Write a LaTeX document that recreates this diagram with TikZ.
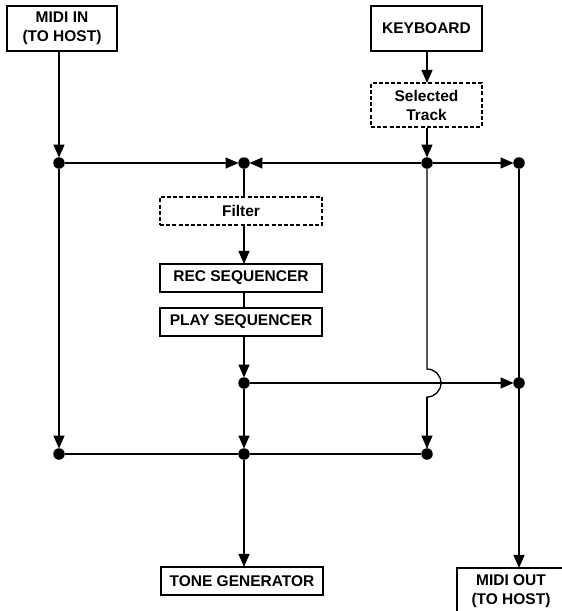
\documentclass[tikz,border=0pt]{standalone}
\usepackage{fontspec}
\setmainfont{Liberation Sans}
\usetikzlibrary{arrows.meta}
\begin{document}
\begin{tikzpicture}[x=1pt,y=-1pt,
  every node/.style={font=\bfseries\fontsize{15.5}{19}\selectfont, align=center, inner sep=0pt},
  box/.style={draw, line width=1.1pt, rectangle},
  dbox/.style={box, dash pattern=on 4pt off 2.2pt},
  dot/.style={circle, fill, minimum size=11.5pt, inner sep=0pt},
  wire/.style={line width=1.3pt},
  arr/.style={wire, -{Triangle[width=11pt,length=13pt]}, shorten >=-0.5pt}
]
\useasboundingbox (0,0) rectangle (562,611);
% boxes
\node[box, minimum width=110pt, minimum height=45pt] (midiin) at (62,28.5) {MIDI IN\\(TO HOST)};
\node[box, minimum width=111pt, minimum height=45pt] (keyboard) at (426.5,28.5) {KEYBOARD};
\node[dbox, minimum width=111pt, minimum height=44pt] (seltrack) at (426.5,105) {Selected\\Track};
\node[dbox, minimum width=162pt, minimum height=28pt] (filter) at (241,211) {Filter};
\node[box, minimum width=162pt, minimum height=28pt] (rec) at (241,278) {REC SEQUENCER};
\node[box, minimum width=162pt, minimum height=28pt] (play) at (241,322) {PLAY SEQUENCER};
\node[box, minimum width=162pt, minimum height=28pt] (tone) at (242,581) {TONE GENERATOR};
\node[box, minimum width=108pt, minimum height=46pt] (midiout) at (511,591) {MIDI OUT\\(TO HOST)};
% dots
\node[dot] (d1) at (59,163) {};
\node[dot] (d2) at (244,163) {};
\node[dot] (d3) at (427,163) {};
\node[dot] (d4) at (519,163) {};
\node[dot] (d5) at (244,383) {};
\node[dot] (d6) at (519,383) {};
\node[dot] (d7) at (59,454) {};
\node[dot] (d8) at (244,454) {};
\node[dot] (d9) at (427,454) {};
\coordinate (jtop) at (427,369);
% connectors
\draw[arr] (midiin.south -| d1) -- (d1);
\draw[arr] (d1) -- (d2);
\draw[arr] (d3) -- (d2);
\draw[arr] (d3) -- (d4);
\draw[arr] (keyboard.south -| d3) -- (seltrack.north -| d3);
\draw[arr] (seltrack.south -| d3) -- (d3);
\draw[wire] (d2) -- (filter.north -| d2);
\draw[arr] (filter.south -| d2) -- (rec.north -| d2);
\draw[wire] (rec.south -| d2) -- (play.north -| d2);
\draw[arr] (play.south -| d2) -- (d5);
\draw[arr] (d5) -- (d6);
\draw[arr] (d1) -- (d7);
\draw[arr] (d5) -- (d8);
\draw[wire] (d3) -- (jtop) arc[start angle=90, end angle=-90, radius=14pt] -- (d9);
\draw[arr] (427,397) -- (d9);
\draw[wire] (d7) -- (d8) -- (d9);
\draw[arr] (d8) -- (tone.north -| d8);
\draw[arr] (d4) -- (midiout.north -| d4);
\end{tikzpicture}
\end{document}
